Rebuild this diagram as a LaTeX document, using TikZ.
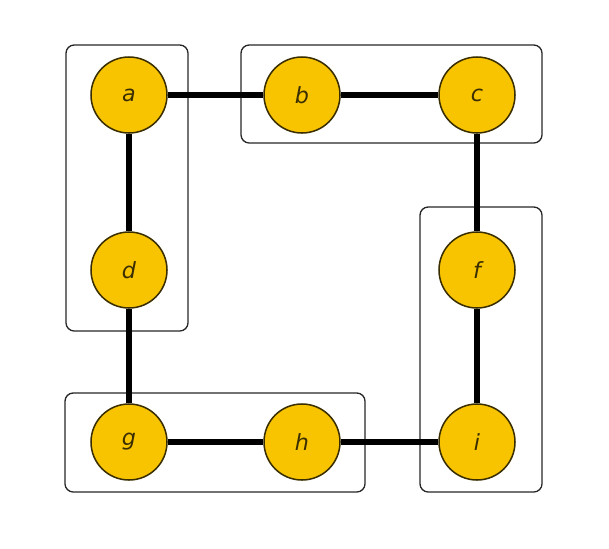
\documentclass[tikz,border=0pt]{standalone}
\usepackage{fontspec}
\setmainfont{DejaVu Sans}
\usetikzlibrary{backgrounds}
\definecolor{vfill}{HTML}{F8C400}
\definecolor{vline}{HTML}{3A2E00}
\tikzset{
  vertex/.style={circle, draw=vline, line width=1.3pt, fill=vfill, minimum size=76*0.03cm, inner sep=0pt,
    text=vline, font=\fontsize{19}{19}\selectfont\itshape},
  edge/.style={line width=4.6pt, black},
  group/.style={draw=black!85, line width=1.1pt, rounded corners=7pt}
}
\begin{document}
\begin{tikzpicture}[x=0.03cm, y=-0.03cm]
  \useasboundingbox (0,0) rectangle (609,548);
  % vertices
  \node[vertex] (a) at (129,95) {a};
  \node[vertex] (b) at (302,95) {b};
  \node[vertex] (c) at (477,95) {c};
  \node[vertex] (d) at (129,270) {d};
  \node[vertex] (f) at (477,270) {f};
  \node[vertex] (g) at (129,442) {g};
  \node[vertex] (h) at (302,442) {h};
  \node[vertex] (i) at (477,442) {i};
  \begin{scope}[on background layer]
    % grouping frames
    \draw[group] (66,45) rectangle (188,331);
    \draw[group] (241,45) rectangle (542,143);
    \draw[group] (420,207) rectangle (542,492);
    \draw[group] (65,393) rectangle (365,492);
    % edges
    \draw[edge] (a) -- (b);
    \draw[edge] (b) -- (c);
    \draw[edge] (a) -- (d);
    \draw[edge] (d) -- (g);
    \draw[edge] (g) -- (h);
    \draw[edge] (h) -- (i);
    \draw[edge] (c) -- (f);
    \draw[edge] (f) -- (i);
  \end{scope}
\end{tikzpicture}
\end{document}
